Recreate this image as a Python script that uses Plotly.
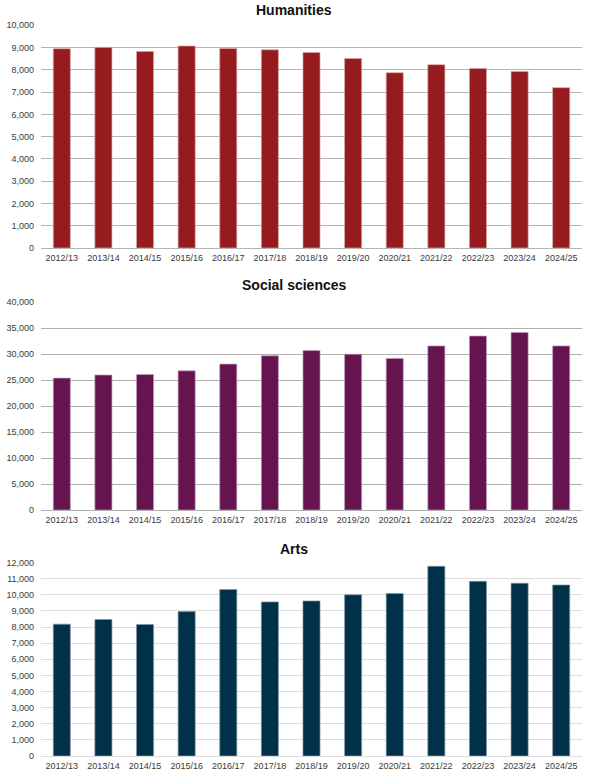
import plotly.graph_objects as go

years = ["2012/13", "2013/14", "2014/15", "2015/16", "2016/17", "2017/18", "2018/19",
         "2019/20", "2020/21", "2021/22", "2022/23", "2023/24", "2024/25"]
humanities = [8950, 9010, 8830, 9070, 8960, 8900, 8780, 8510, 7870, 8230, 8060, 7930, 7200]
social_sciences = [25400, 26000, 26100, 26800, 28100, 29700, 30700, 30000, 29200, 31600, 33500, 34200, 31600]
arts = [8180, 8470, 8160, 8960, 10330, 9560, 9620, 10000, 10080, 11770, 10840, 10720, 10610]

titles = ["Humanities", "Social sciences", "Arts"]
colors = ["#951b1f", "#651450", "#00304a"]
edge_colors = ["#d9a3a5", "#c39bbb", "#7f98a6"]
grid_colors = ["#b4b4b4", "#b0b0b0", "#dcdcdc"]
y_max = [10000, 40000, 12000]
y_dtick = [1000, 5000, 1000]

W, H = 592, 780
# pixel boxes (top, bottom) of each panel
boxes = [(25, 248), (302, 510), (562.3, 756)]
title_y = [10, 285, 549]
x0, x1 = 41, 582

fig = go.Figure()
series = [humanities, social_sciences, arts]
for i, vals in enumerate(series):
    n = "" if i == 0 else str(i + 1)
    fig.add_trace(go.Bar(
        x=years, y=vals, xaxis="x" + n, yaxis="y" + n,
        marker=dict(color=colors[i], line=dict(color=edge_colors[i], width=0.7)),
        width=0.41, showlegend=False, hoverinfo="x+y",
    ))
    top, bot = boxes[i]
    fig.layout["xaxis" + n] = dict(
        domain=[x0 / W, x1 / W], anchor="y" + n, type="category",
        showgrid=False, showline=False, zeroline=False, automargin=False,
        tickfont=dict(family="Liberation Sans", size=9, color="#3a3a3a"),
        ticks="", ticklabelstandoff=3, fixedrange=True,
    )
    fig.layout["yaxis" + n] = dict(
        domain=[1 - bot / H, 1 - top / H], anchor="x" + n, automargin=False,
        range=[0, y_max[i] * 1.0015], dtick=y_dtick[i], tick0=0,
        showgrid=True, gridcolor=grid_colors[i], gridwidth=1.3,
        zeroline=True, zerolinecolor=grid_colors[i], zerolinewidth=1.3,
        showline=False, tickformat=",d",
        tickfont=dict(family="Liberation Sans", size=9, color="#3a3a3a"),
        ticks="", ticklabelstandoff=6, fixedrange=True,
    )
    fig.add_annotation(
        text="<b>" + titles[i] + "</b>", x=0.497, xref="paper", xanchor="center",
        y=1 - title_y[i] / H, yref="paper", yanchor="middle", showarrow=False,
        font=dict(family="Liberation Sans", size=14, color="#111111"),
    )

fig.update_layout(
    width=W, height=H, margin=dict(l=0, r=0, t=0, b=0, autoexpand=False),
    paper_bgcolor="white", plot_bgcolor="white", bargap=0.59,
)
fig.write_html("out.html")
